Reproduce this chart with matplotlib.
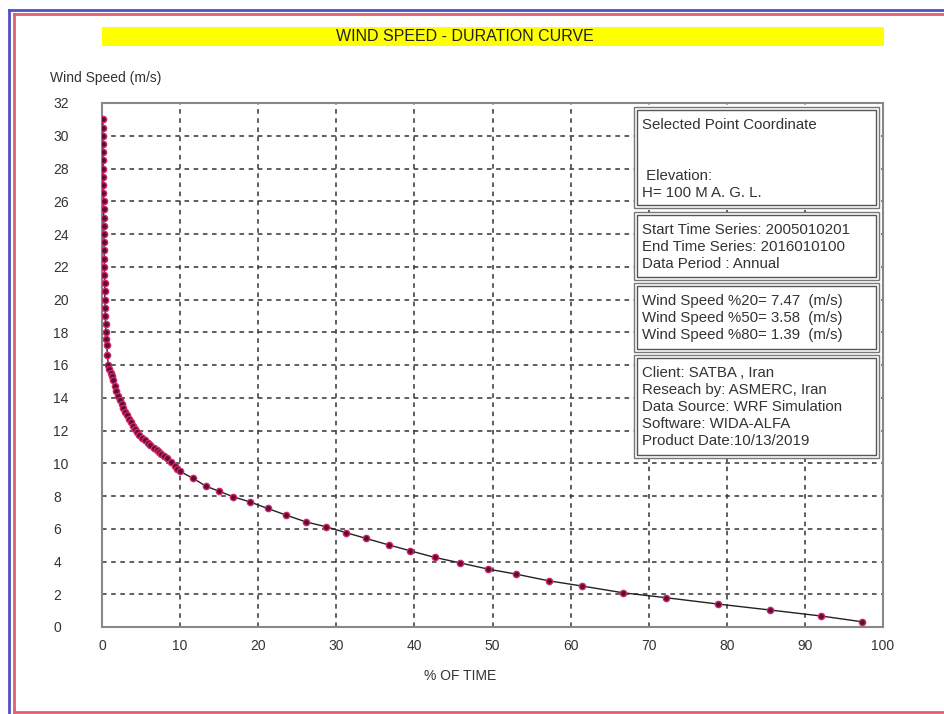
import matplotlib
matplotlib.use("Agg")
import matplotlib.pyplot as plt
from matplotlib.patches import Rectangle

plt.rcParams['font.family'] = ['Liberation Sans', 'DejaVu Sans']

# percent of time each speed is exceeded
pct_time = [0.10, 0.11, 0.12, 0.13, 0.14, 0.15, 0.16, 0.17, 0.18, 0.19, 0.20, 0.21,
            0.22, 0.23, 0.24, 0.25, 0.27, 0.28, 0.30, 0.31, 0.33, 0.35, 0.37, 0.40,
            0.42, 0.46, 0.50, 0.55, 0.60, 0.70, 0.80, 0.95, 1.10, 1.25, 1.45, 1.65,
            1.85, 2.05, 2.30, 2.50, 2.75, 2.95, 3.20, 3.45, 3.70, 3.95, 4.20, 4.50,
            4.80, 5.15, 5.50, 5.85, 6.20, 6.60, 7.00, 7.30, 7.60, 7.95, 8.30, 8.80,
            9.30, 9.65, 10.0, 11.7, 13.3, 15.0, 16.8, 18.95, 21.2, 23.6, 26.1, 28.7,
            31.2, 33.8, 36.8, 39.5, 42.6, 45.8, 49.4, 53.0, 57.2, 61.5, 66.7, 72.2,
            78.9, 85.5, 92.1, 97.3]
wind_speed = [31.0, 30.5, 30.0, 29.5, 29.0, 28.5, 28.0, 27.5, 27.0, 26.5, 26.0, 25.5,
              25.0, 24.5, 24.0, 23.5, 23.0, 22.5, 22.0, 21.5, 21.0, 20.5, 20.0, 19.5,
              19.0, 18.5, 18.0, 17.6, 17.2, 16.6, 16.0, 15.75, 15.5, 15.3, 15.06, 14.7,
              14.4, 14.1, 13.84, 13.6, 13.35, 13.15, 12.93, 12.7, 12.5, 12.3, 12.1, 11.92,
              11.75, 11.57, 11.4, 11.25, 11.1, 10.95, 10.8, 10.67, 10.55, 10.42, 10.3, 10.05,
              9.84, 9.67, 9.5, 9.07, 8.6, 8.29, 7.95, 7.64, 7.24, 6.83, 6.42, 6.12,
              5.77, 5.41, 5.0, 4.65, 4.25, 3.92, 3.54, 3.23, 2.82, 2.5, 2.09, 1.79,
              1.40, 1.04, 0.67, 0.32]

x_ticks = [0, 10, 20, 30, 40, 50, 60, 70, 80, 90, 100]
y_ticks = [0, 2, 4, 6, 8, 10, 12, 14, 16, 18, 20, 22, 24, 26, 28, 30, 32]

box_texts = [
    ["Selected Point Coordinate", "", "", " Elevation:", "H= 100 M A. G. L."],
    ["Start Time Series: 2005010201", "End Time Series: 2016010100", "Data Period : Annual"],
    ["Wind Speed %20= 7.47  (m/s)", "Wind Speed %50= 3.58  (m/s)", "Wind Speed %80= 1.39  (m/s)"],
    ["Client: SATBA , Iran", "Reseach by: ASMERC, Iran", "Data Source: WRF Simulation",
     "Software: WIDA-ALFA", "Product Date:10/13/2019"],
]

W, H = 944, 714


def fx(x):
    return x / W


def fy(y):
    return 1 - y / H


fig = plt.figure(figsize=(W / 100, H / 100), dpi=100)
fig.patch.set_facecolor('white')

# window border
fig.add_artist(plt.Line2D([fx(9), fx(9)], [fy(10), fy(714)], color='#5050c8', lw=2))
fig.add_artist(plt.Line2D([fx(9), fx(944)], [fy(10), fy(10)], color='#5050c8', lw=2))
fig.add_artist(plt.Line2D([fx(14), fx(14)], [fy(14), fy(712)], color='#e06070', lw=2))
fig.add_artist(plt.Line2D([fx(14), fx(944)], [fy(14), fy(14)], color='#e06070', lw=2))
fig.add_artist(plt.Line2D([fx(14), fx(944)], [fy(712), fy(712)], color='#e06070', lw=2))

# yellow title bar
fig.add_artist(Rectangle((fx(102), fy(46)), fx(884) - fx(102), fy(27) - fy(46),
                         transform=fig.transFigure, facecolor='#ffff00', edgecolor='none'))
fig.text(fx(465), fy(36.5), "WIND SPEED - DURATION CURVE", ha='center', va='center',
         fontsize=11.5, color='#222222')

ax = fig.add_axes([fx(102), fy(627), fx(883) - fx(102), fy(103) - fy(627)])
ax.plot(pct_time, wind_speed, color='#222222', lw=1, zorder=3)
ax.plot(pct_time, wind_speed, ls='none', marker='o', ms=4.5, markerfacecolor='#5e0a3c',
        markeredgecolor='#d02860', markeredgewidth=1, zorder=4)
ax.set_xlim(0, 100)
ax.set_ylim(0, 32)
ax.set_xticks(x_ticks)
ax.set_yticks(y_ticks)
ax.set_xticklabels([str(t) for t in x_ticks])
ax.set_yticklabels([str(t) for t in y_ticks], ha='left')
ax.tick_params(axis='both', length=0, labelsize=10, labelcolor='#333333')
ax.tick_params(axis='y', pad=35)
ax.tick_params(axis='x', pad=9)
ax.grid(True, color='#333333', ls=(0, (3, 3)), lw=1.1)
for s in ax.spines.values():
    s.set_color('#888888')
    s.set_linewidth(1.5)

fig.text(fx(50), fy(78), "Wind Speed (m/s)", ha='left', va='center', fontsize=10, color='#333333')
fig.text(fx(460), fy(676), "% OF TIME", ha='center', va='center', fontsize=10, color='#333333')

# info boxes at the right
boxes = [(107, 208), (212, 280), (283, 352), (355, 458)]
for (top, bottom), lines in zip(boxes, box_texts):
    for inset, col in [(0, '#777777'), (3, '#555555')]:
        fig.add_artist(Rectangle((fx(634 + inset), fy(bottom - inset)),
                                 fx(879 - inset) - fx(634 + inset),
                                 fy(top + inset) - fy(bottom - inset),
                                 transform=fig.transFigure, facecolor='white' if inset == 0 else 'none',
                                 edgecolor=col, lw=1, zorder=5))
    for i, line in enumerate(lines):
        fig.text(fx(642), fy(top + 18 + i * 17), line, ha='left', va='center', fontsize=10.8,
                 color='#333333', zorder=6)

fig.savefig("out.png", dpi=100)
